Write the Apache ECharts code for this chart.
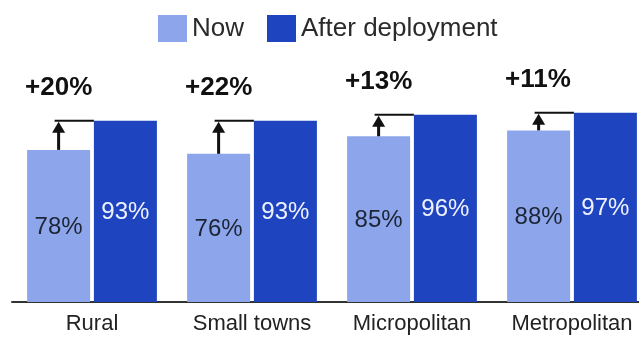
<!DOCTYPE html>
<html>
<head>
<meta charset="utf-8">
<script src="https://cdn.jsdelivr.net/npm/echarts@6/dist/echarts.min.js"></script>
<style>
  html, body { margin: 0; padding: 0; background: #fff; }
  #chart { width: 639px; height: 339px; }
</style>
</head>
<body>
<div id="chart"></div>
<script>
// Coverage by area type, now vs. after deployment
const categories = ['Rural', 'Small towns', 'Micropolitan', 'Metropolitan'];
const nowValues = [78, 76, 85, 88];
const afterValues = [93, 93, 96, 97];
const gainLabels = [20, 22, 13, 11];

const FONT = '"Liberation Sans", Arial, Helvetica, sans-serif';
const BAR_W = 63;
const GAP_PCT = 6;
const GAP_PX = BAR_W * GAP_PCT / 100;
const NOW_COLOR = '#8DA6EB';
const AFTER_COLOR = '#1E44BF';

const chart = echarts.init(document.getElementById('chart'), null, { renderer: 'canvas' });

const arrowData = categories.map((_, i) => [i, nowValues[i], afterValues[i], gainLabels[i]]);

function renderGain(params, api) {
  const i = api.value(0);
  const nowV = api.value(1);
  const afterV = api.value(2);
  const gain = api.value(3);
  const base = api.coord([i, nowV]);
  const cx = base[0];
  const nowY = base[1];
  const afterY = api.coord([i, afterV])[1];
  const nowCx = cx - (BAR_W + GAP_PX) / 2;
  const nowLeft = nowCx - BAR_W / 2;
  const afterLeft = cx + GAP_PX / 2;
  const headH = 12, headW = 13;
  return {
    type: 'group',
    children: [
      {
        type: 'line',
        shape: { x1: nowCx, y1: nowY, x2: nowCx, y2: afterY + headH - 1 },
        style: { stroke: '#111', lineWidth: 3 }
      },
      {
        type: 'polygon',
        shape: { points: [[nowCx, afterY + 1], [nowCx - headW / 2, afterY + headH], [nowCx + headW / 2, afterY + headH]] },
        style: { fill: '#111' }
      },
      {
        type: 'line',
        shape: { x1: nowCx - 4, y1: afterY, x2: afterLeft, y2: afterY },
        style: { stroke: '#111', lineWidth: 2 }
      },
      {
        type: 'text',
        style: {
          x: nowLeft - 2,
          y: afterY - 33,
          text: '+' + gain + '%',
          fill: '#111',
          font: 'bold 26px ' + FONT,
          textAlign: 'left',
          textVerticalAlign: 'middle'
        }
      }
    ]
  };
}

chart.setOption({
  animation: false,
  backgroundColor: '#ffffff',
  textStyle: { fontFamily: FONT },
  legend: {
    data: ['Now', 'After deployment'],
    left: 153,
    top: 10,
    itemWidth: 29,
    itemHeight: 27,
    itemGap: 23,
    icon: 'rect',
    textStyle: { fontSize: 26, color: '#2a2a2a', fontFamily: FONT },
    selectedMode: false
  },
  grid: { left: 12, top: 107, width: 640, height: 195, outerBoundsMode: 'none', containLabel: false },
  xAxis: {
    type: 'category',
    data: categories,
    axisLine: { show: true, lineStyle: { color: '#333', width: 2 } },
    axisTick: { show: false },
    axisLabel: { interval: 0, fontSize: 22, color: '#222', margin: 11, fontFamily: FONT }
  },
  yAxis: {
    type: 'value',
    min: 0,
    max: 100,
    show: false,
    splitLine: { show: false }
  },
  series: [
    {
      name: 'Now',
      type: 'bar',
      data: nowValues,
      barWidth: BAR_W,
      barGap: GAP_PCT + '%',
      itemStyle: { color: NOW_COLOR },
      label: {
        show: true,
        position: 'inside',
        offset: [0, 1],
        formatter: '{c}%',
        fontSize: 24,
        color: '#1c2435',
        fontFamily: FONT
      }
    },
    {
      name: 'After deployment',
      type: 'bar',
      data: afterValues,
      barWidth: BAR_W,
      itemStyle: { color: AFTER_COLOR },
      label: {
        show: true,
        position: 'inside',
        offset: [0, 1],
        formatter: '{c}%',
        fontSize: 24,
        color: '#eef2ff',
        fontFamily: FONT
      }
    },
    {
      type: 'custom',
      name: 'gain',
      data: arrowData,
      encode: { x: 0, y: [1, 2] },
      clip: false,
      silent: true,
      z: 5,
      renderItem: renderGain
    }
  ]
});
</script>
</body>
</html>
